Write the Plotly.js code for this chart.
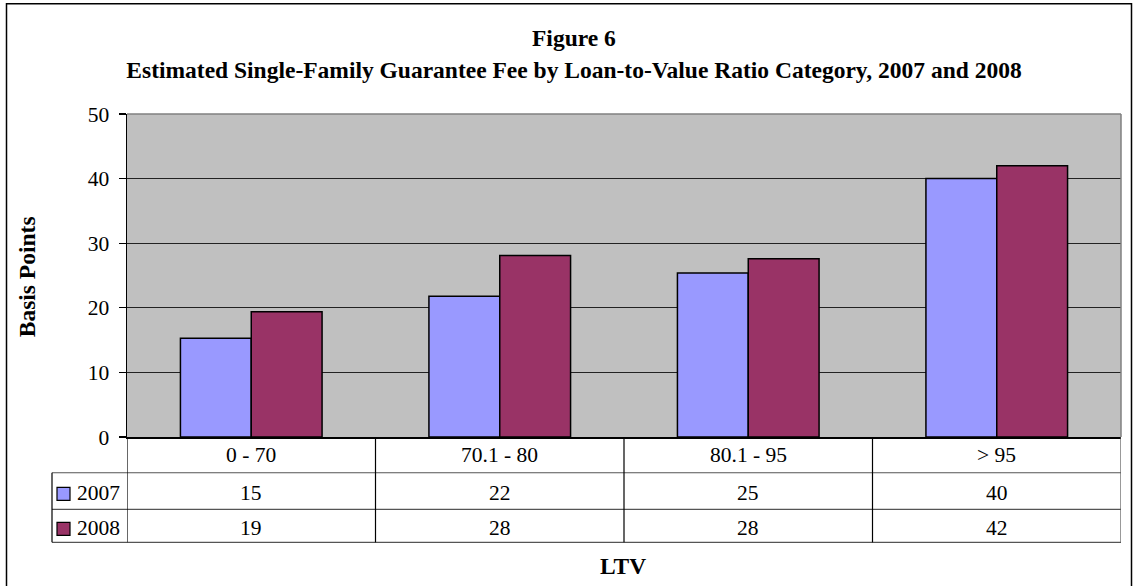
<!DOCTYPE html>
<html>
<head>
<meta charset="utf-8">
<script src="https://cdn.plot.ly/plotly-3.0.1.min.js"></script>
<style>
  html, body { margin: 0; padding: 0; background: #ffffff; }
  #chart { width: 1133px; height: 586px; }
</style>
</head>
<body>
<div id="chart"></div>
<script>
// ---- Data ----
const categories = ['0 - 70', '70.1 - 80', '80.1 - 95', '> 95'];
const seriesNames = ['2007', '2008'];
const fee2007 = [15.3, 21.8, 25.4, 40.0];
const fee2008 = [19.4, 28.1, 27.6, 42.0];
const table2007 = ['15', '22', '25', '40'];
const table2008 = ['19', '28', '28', '42'];
const yTicks = [0, 10, 20, 30, 40, 50];

// ---- Layout geometry ----
const W = 1133, H = 586;
const L = 127, R = 1121, T = 114, B = 437.5;
const pw = R - L, ph = B - T;
const px = v => (v - L) / pw;   // pixel x -> paper x
const py = v => (B - v) / ph;   // pixel y -> paper y

const colors = ['#9999FF', '#993366'];
const serif = 'Liberation Serif, Times New Roman, serif';

const traces = [
  { type: 'bar', name: seriesNames[0], x: categories, y: fee2007,
    marker: { color: colors[0], line: { color: '#000000', width: 1.5 } }, hoverinfo: 'x+y' },
  { type: 'bar', name: seriesNames[1], x: categories, y: fee2008,
    marker: { color: colors[1], line: { color: '#000000', width: 1.5 } }, hoverinfo: 'x+y' }
];

const shapes = [];
const annotations = [];

// outer frame
shapes.push({ type: 'rect', xref: 'paper', yref: 'paper', x0: px(6.5), x1: px(1131.5), y0: py(3.5), y1: py(620),
  line: { color: '#000000', width: 1.5 }, fillcolor: 'rgba(0,0,0,0)', layer: 'below' });
// plot area top & right border (grey)
shapes.push({ type: 'line', xref: 'paper', yref: 'paper', x0: 0, x1: 1, y0: 1, y1: 1, line: { color: '#808080', width: 1.5 } });
shapes.push({ type: 'line', xref: 'paper', yref: 'paper', x0: 1, x1: 1, y0: 0, y1: 1, line: { color: '#808080', width: 1.5 } });

// data table lines
const rowLines = [473.3, 510, 543];
rowLines.forEach(v => shapes.push({ type: 'line', xref: 'paper', yref: 'paper', x0: px(52), x1: 1, y0: py(v), y1: py(v),
  line: { color: '#555555', width: 1.2 } }));
// left legend column edge
shapes.push({ type: 'line', xref: 'paper', yref: 'paper', x0: px(52), x1: px(52), y0: py(473.3), y1: py(543),
  line: { color: '#000000', width: 1.2 } });
// category dividers on the category axis
[-0.5, 0.5, 1.5, 2.5, 3.5].forEach(c => shapes.push({ type: 'line', xref: 'x', yref: 'paper', x0: c, x1: c,
  y0: py(437.5), y1: py(543), line: { color: c === 3.5 ? '#555555' : '#000000', width: 1.2 } }));

// table text
const tfont = { family: serif, size: 21.5, color: '#000000' };
categories.forEach((c, i) => {
  annotations.push({ xref: 'x', yref: 'paper', x: c, y: py(456), text: c, showarrow: false, font: tfont, yanchor: 'middle', xanchor: 'center' });
  annotations.push({ xref: 'x', yref: 'paper', x: c, y: py(493.5), text: table2007[i], showarrow: false, font: tfont, yanchor: 'middle', xanchor: 'center' });
  annotations.push({ xref: 'x', yref: 'paper', x: c, y: py(528.5), text: table2008[i], showarrow: false, font: tfont, yanchor: 'middle', xanchor: 'center' });
});
// legend keys in table
[[494.5, 0], [529.5, 1]].forEach(([yc, k]) => {
  shapes.push({ type: 'rect', xref: 'paper', yref: 'paper', x0: px(57), x1: px(70), y0: py(yc - 6.5), y1: py(yc + 6.5),
    fillcolor: colors[k], line: { color: '#000000', width: 1.2 } });
  annotations.push({ xref: 'paper', yref: 'paper', x: px(75), y: py(yc - 0.5), text: seriesNames[k], showarrow: false,
    font: tfont, xanchor: 'left', yanchor: 'middle' });
});

// title lines
const bfont = { family: serif, size: 23.5, color: '#000000', weight: 'bold' };
annotations.push({ xref: 'paper', yref: 'paper', x: px(574), y: py(38), text: '<b>Figure 6</b>', showarrow: false,
  font: bfont, xanchor: 'center', yanchor: 'middle' });
// x axis title
annotations.push({ xref: 'paper', yref: 'paper', x: px(623), y: py(567), text: '<b>LTV</b>', showarrow: false,
  font: bfont, xanchor: 'center', yanchor: 'middle' });
// y axis title
annotations.push({ xref: 'paper', yref: 'paper', x: px(27), y: py(277.5), text: '<b>Basis Points</b>', showarrow: false,
  font: bfont, textangle: -90, xanchor: 'center', yanchor: 'middle' });

const layout = {
  width: W, height: H,
  margin: { l: L, r: W - R, t: T, b: H - B, pad: 0 },
  paper_bgcolor: '#ffffff',
  plot_bgcolor: '#C0C0C0',
  showlegend: false,
  barmode: 'group',
  bargap: 0.43,
  bargroupgap: 0,
  title: { text: '<b>Estimated Single-Family Guarantee Fee by Loan-to-Value Ratio Category, 2007 and 2008</b>',
    font: bfont, x: px(574), xref: 'paper', xanchor: 'center', y: 1 - 70 / H, yanchor: 'middle' },
  xaxis: { type: 'category', showticklabels: false, ticks: '', showgrid: false, zeroline: false,
    showline: true, linecolor: '#000000', linewidth: 1.5, range: [-0.5, 3.5] },
  yaxis: { range: [0, 50], tickvals: yTicks, ticktext: yTicks.map(String), ticks: 'outside', ticklen: 7,
    tickcolor: '#000000', tickwidth: 1.2, showline: true, linecolor: '#000000', linewidth: 1.5,
    showgrid: true, gridcolor: '#222222', gridwidth: 1.2, zeroline: false,
    tickfont: { family: serif, size: 21.5, color: '#000000' }, ticklabelstandoff: 5 },
  shapes: shapes,
  annotations: annotations
};

Plotly.newPlot('chart', traces, layout, { displayModeBar: false, staticPlot: true });
</script>
</body>
</html>
